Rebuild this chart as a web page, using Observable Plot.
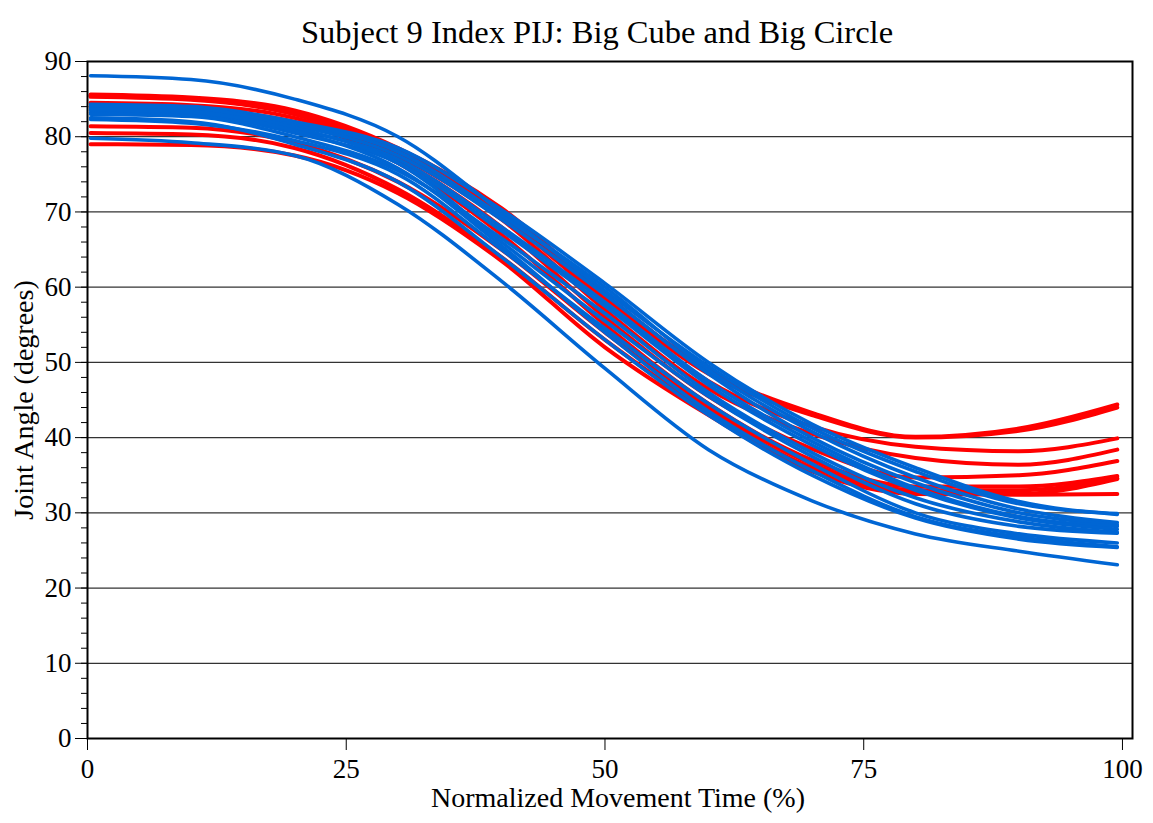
<!DOCTYPE html>
<html>
<head>
<meta charset="utf-8">
<script src="https://cdn.jsdelivr.net/npm/d3@7"></script>
<script src="https://cdn.jsdelivr.net/npm/@observablehq/plot@0.6"></script>
<style>
  body { margin: 0; background: #fff; }
  #title { box-sizing: border-box; height: 40px; padding-top: 16px; padding-left: 41px; width: 1153px; text-align: center; font-family: "Liberation Serif", serif; font-size: 32.5px; line-height: 1; color: #000; position: relative; z-index: 1; }
  #chart svg { overflow: visible; }
</style>
</head>
<body>
<div id="title">Subject 9 Index PIJ: Big Cube and Big Circle</div>
<div id="chart"></div>
<script>
// Normalized movement time (%) sample positions
const timePct = [0.3, 10, 20, 30, 40, 50, 60, 70, 80, 90, 99.5];

// Big Cube trials (red)
const red1 = [85.6, 85.2, 83.5, 78.5, 70.5, 59.0, 49.0, 43.3, 40.1, 41.2, 44.4];
const red2 = [85.5, 85.1, 83.3, 78.2, 70.0, 58.5, 48.5, 43.0, 40.0, 40.9, 44.0];
const red3 = [85.3, 84.9, 83.0, 77.8, 69.5, 58.0, 47.5, 41.5, 38.8, 38.2, 39.9];
const red4 = [85.4, 85.0, 83.0, 77.5, 69.0, 57.0, 46.5, 40.5, 37.3, 36.4, 38.4];
const red5 = [84.5, 84.2, 82.5, 77.0, 68.0, 56.0, 45.5, 38.5, 34.7, 35.0, 36.9];
const red6 = [84.0, 83.6, 82.0, 76.5, 67.0, 55.0, 44.5, 37.0, 33.5, 33.5, 34.9];
const red7 = [81.4, 81.2, 79.2, 74.0, 65.0, 54.0, 44.0, 36.5, 33.0, 33.0, 34.6];
const red8 = [80.5, 80.3, 78.5, 73.0, 64.0, 53.0, 43.5, 36.0, 32.8, 32.5, 34.5];
const red9 = [79.0, 78.9, 77.5, 72.5, 63.5, 52.0, 43.0, 35.5, 32.5, 32.4, 32.5];

// Big Circle trials (blue)
const blue1  = [88.1, 87.6, 85.0, 80.0, 70.0, 59.5, 49.5, 41.3, 35.5, 31.2, 29.9];
const blue2  = [84.3, 84.0, 82.0, 78.5, 70.3, 60.5, 50.0, 41.8, 36.0, 31.5, 29.8];
const blue3  = [84.0, 83.7, 81.8, 78.0, 69.5, 60.0, 49.0, 40.8, 34.7, 30.5, 28.7];
const blue4  = [83.8, 83.5, 81.5, 77.5, 69.0, 59.0, 48.5, 40.0, 34.0, 30.0, 28.4];
const blue5  = [83.5, 83.2, 81.0, 77.0, 68.0, 58.0, 47.5, 39.5, 33.3, 29.5, 28.2];
const blue6  = [83.2, 83.0, 80.5, 76.5, 67.5, 57.5, 47.0, 39.0, 33.0, 29.3, 27.8];
const blue7  = [83.0, 82.7, 80.0, 75.5, 66.5, 56.5, 46.0, 38.0, 32.0, 28.8, 27.4];
const blue8  = [84.2, 83.8, 81.2, 76.5, 66.0, 55.5, 45.5, 37.5, 31.2, 28.2, 27.3];
const blue9  = [82.3, 81.8, 79.5, 75.0, 65.0, 54.5, 44.5, 36.5, 30.0, 27.2, 26.0];
const blue10 = [83.6, 83.3, 80.8, 75.8, 65.5, 54.0, 43.5, 35.6, 29.5, 26.8, 25.5];
const blue11 = [82.5, 82.0, 79.0, 74.0, 64.0, 53.0, 43.0, 35.0, 29.3, 26.5, 25.4];
const blue12 = [79.8, 79.2, 77.5, 71.0, 60.8, 49.2, 38.4, 31.6, 27.2, 24.9, 23.1];

const redTrials = [red1, red2, red3, red4, red5, red6, red7, red8, red9];
const blueTrials = [blue1, blue2, blue3, blue4, blue5, blue6, blue7, blue8, blue9, blue10, blue11, blue12];

const xTicks = [0, 25, 50, 75, 100];
const yTicks = [0, 10, 20, 30, 40, 50, 60, 70, 80, 90];
const yMinorTicks = d3.range(0, 91, 2);
const yGrid = [10, 20, 30, 40, 50, 60, 70, 80];

function toRows(trials, group) {
  const rows = [];
  trials.forEach((vals, i) => vals.forEach((v, j) => rows.push({group, trial: group + i, t: timePct[j], angle: v})));
  return rows;
}
const redRows = toRows(redTrials, "cube");
const blueRows = toRows(blueTrials, "circle");

const chart = Plot.plot({
  width: 1153,
  height: 783,
  marginTop: 21,
  marginBottom: 85,
  marginLeft: 87,
  marginRight: 21,
  style: {fontFamily: "Liberation Serif", fontSize: "27px", color: "#000", background: "transparent", overflow: "visible"},
  x: {domain: [0, 100.97]},
  y: {domain: [0, 90]},
  marks: [
    Plot.ruleY(yGrid, {stroke: "#333", strokeWidth: 1.2}),
    Plot.line(redRows, {x: "t", y: "angle", z: "trial", stroke: "#ff0000", strokeWidth: 4, curve: "monotone-x"}),
    Plot.line(blueRows, {x: "t", y: "angle", z: "trial", stroke: "#0066d4", strokeWidth: 3.6, curve: "monotone-x"}),
    Plot.axisY({ticks: yMinorTicks, tickSize: 6, text: null, label: null, stroke: "#000"}),
    Plot.axisY({ticks: yTicks, tickSize: 12, tickPadding: 4, label: null, stroke: "#000", fontSize: 27}),
    Plot.axisX({ticks: xTicks, tickSize: 12, tickPadding: 8, label: null, stroke: "#000", fontSize: 27}),
    Plot.frame({stroke: "#000", strokeWidth: 2}),
    Plot.text(["Joint Angle (degrees)"], {text: d => d, frameAnchor: "left", textAnchor: "middle", lineAnchor: "middle", dx: -63, rotate: -90, fontSize: 28, fill: "#000"}),
    Plot.text(["Normalized Movement Time (%)"], {text: d => d, frameAnchor: "bottom", dy: 68, dx: 8, fontSize: 28, fill: "#000"})
  ]
});
document.getElementById("chart").appendChild(chart);
</script>
</body>
</html>
